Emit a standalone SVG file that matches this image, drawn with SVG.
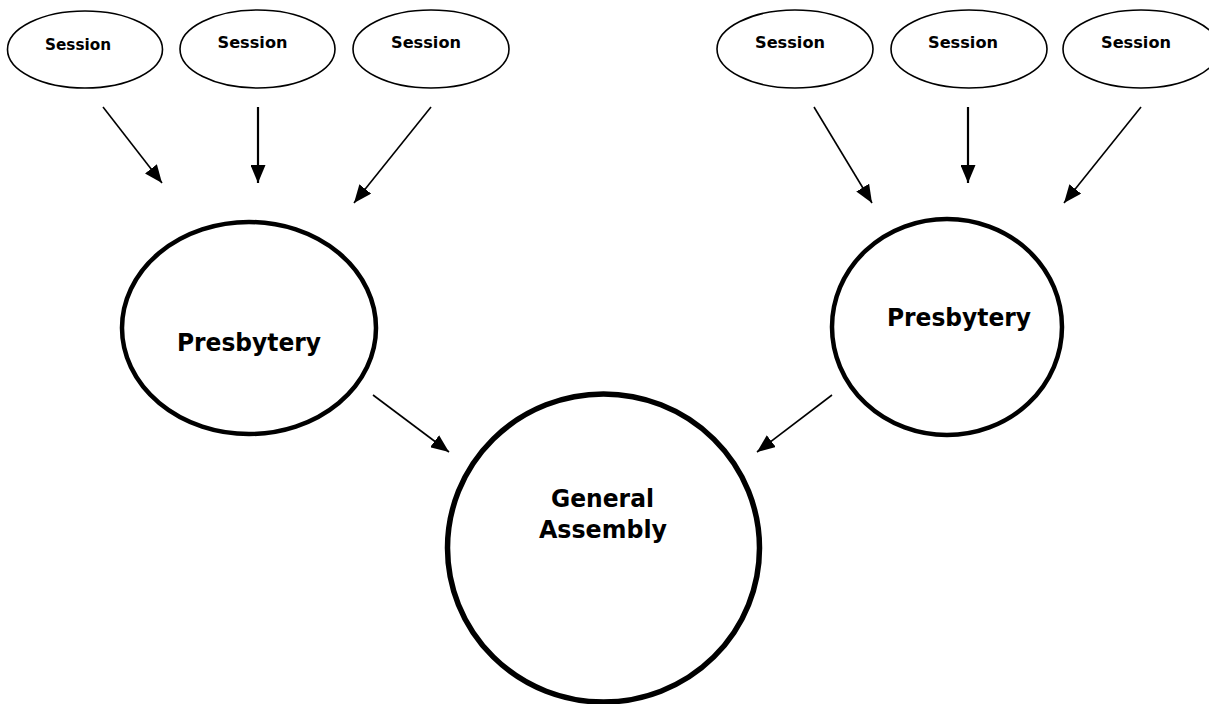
<svg xmlns="http://www.w3.org/2000/svg" width="1209" height="704" viewBox="0 0 1209 704">
<style>
.bg{fill:#fff}
.sess{fill:#fff;stroke:#000;stroke-width:1.6}
.pres{fill:#fff;stroke:#000;stroke-width:4.5}
.ga{fill:#fff;stroke:#000;stroke-width:5.5}
.lbl{font-family:"DejaVu Sans","Liberation Sans",sans-serif;font-weight:bold;fill:#000;text-anchor:middle}
.s{font-size:16.5px}
.s1{font-size:15.5px}
.p{font-size:24.5px}
.conn line{stroke:#000;stroke-width:1.6;marker-end:url(#ah)}
</style>
<defs>
<marker id="ah" viewBox="0 0 18 15" refX="18" refY="7.5" markerWidth="18" markerHeight="15" markerUnits="userSpaceOnUse" orient="auto">
<path d="M0,0 L18,7.5 L0,15 z" fill="#000"/>
</marker>
</defs>
<rect class="bg" x="0" y="0" width="1209" height="704"/>
<g id="session-1"><ellipse class="sess" cx="85" cy="49.5" rx="77.5" ry="38.5"/><text class="lbl s1" x="78" y="50" textLength="66" lengthAdjust="spacingAndGlyphs">Session</text></g>
<g id="session-2"><ellipse class="sess" cx="257.5" cy="49" rx="77.5" ry="39"/><text class="lbl s" x="252.5" y="48" textLength="70" lengthAdjust="spacingAndGlyphs">Session</text></g>
<g id="session-3"><ellipse class="sess" cx="431" cy="49" rx="78" ry="39"/><text class="lbl s" x="426" y="48" textLength="70" lengthAdjust="spacingAndGlyphs">Session</text></g>
<g id="session-4"><ellipse class="sess" cx="795" cy="49" rx="78" ry="39"/><text class="lbl s" x="790" y="48" textLength="70" lengthAdjust="spacingAndGlyphs">Session</text></g>
<g id="session-5"><ellipse class="sess" cx="969" cy="49" rx="78" ry="39"/><text class="lbl s" x="963" y="48" textLength="70" lengthAdjust="spacingAndGlyphs">Session</text></g>
<g id="session-6"><ellipse class="sess" cx="1141" cy="49" rx="78" ry="39"/><text class="lbl s" x="1136" y="48" textLength="70" lengthAdjust="spacingAndGlyphs">Session</text></g>
<g id="presbytery-left"><ellipse class="pres" cx="249" cy="328" rx="127" ry="106"/><text class="lbl p" x="249" y="351" textLength="144" lengthAdjust="spacingAndGlyphs">Presbytery</text></g>
<g id="presbytery-right"><ellipse class="pres" cx="947" cy="327" rx="115" ry="108"/><text class="lbl p" x="959" y="326" textLength="144" lengthAdjust="spacingAndGlyphs">Presbytery</text></g>
<g id="general-assembly"><ellipse class="ga" cx="603.5" cy="548" rx="156" ry="154"/><text class="lbl p" x="602.5" y="507" textLength="103" lengthAdjust="spacingAndGlyphs">General</text><text class="lbl p" x="603" y="538" textLength="128" lengthAdjust="spacingAndGlyphs">Assembly</text></g>
<g id="connectors" class="conn">
<line x1="103" y1="107" x2="162" y2="183"/>
<line x1="258" y1="107" x2="258" y2="183" style="stroke-width:2.2"/>
<line x1="431" y1="107" x2="354" y2="203"/>
<line x1="814" y1="107" x2="872" y2="203"/>
<line x1="968" y1="107" x2="968" y2="183" style="stroke-width:2.2"/>
<line x1="1141" y1="107" x2="1064" y2="203"/>
<line x1="373" y1="395" x2="449" y2="452"/>
<line x1="832" y1="395" x2="757" y2="452"/>
</g>
</svg>
